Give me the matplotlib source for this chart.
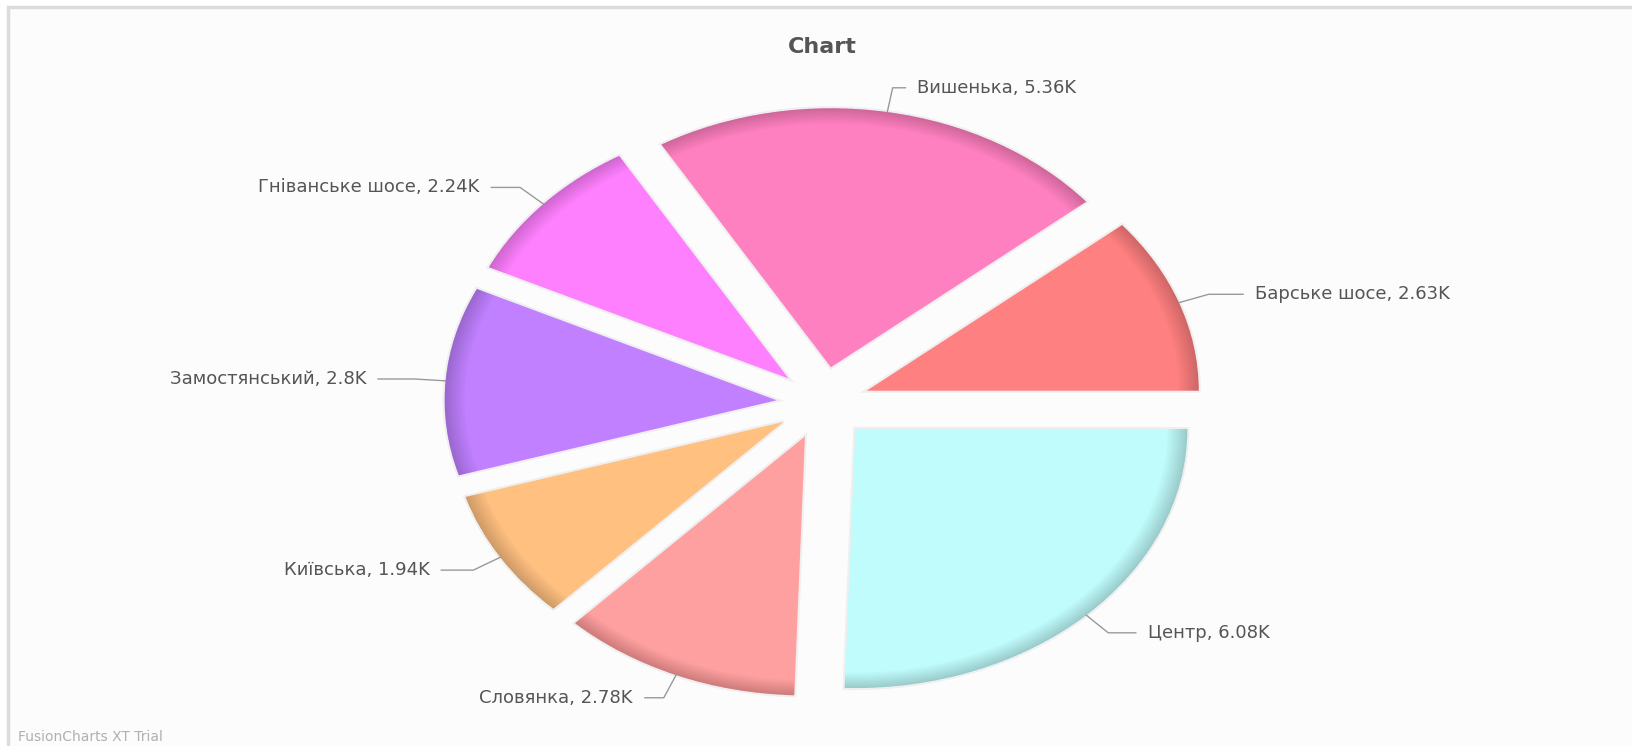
import matplotlib.pyplot as plt
from matplotlib.patches import Wedge, Rectangle
import numpy as np

# данные
names = ['Барське шосе', 'Вишенька', 'Гніванське шосе', 'Замостянський',
         'Київська', 'Словянка', 'Центр']
values = [2.63, 5.36, 2.24, 2.8, 1.94, 2.78, 6.08]
value_labels = ['2.63K', '5.36K', '2.24K', '2.8K', '1.94K', '2.78K', '6.08K']
colors = ['#FF8080', '#FF80C0', '#FF80FF', '#C080FF', '#FFC080', '#FFA0A0', '#C0FCFC']

W, H = 1633, 746
fig = plt.figure(figsize=(W / 100, H / 100), dpi=100)
fig.patch.set_facecolor('white')
# фон с рамкой сверху и слева
fig.patches.append(Rectangle((8 / W, -0.05), 1.1, (H - 7) / H + 0.05,
                             transform=fig.transFigure, facecolor='#fcfcfc',
                             edgecolor='#dcdcdc', linewidth=2.5, zorder=-10))

ax = fig.add_axes([0, 0, 1, 1])
ax.set_facecolor('none')

explode = 0.14
wedges, _ = ax.pie(values, colors=colors, startangle=0, counterclock=True,
                   explode=[explode] * len(values), radius=1,
                   wedgeprops=dict(linewidth=0, zorder=3))

# растягиваем круг в эллипс, как на картинке
cx, cy, rx, ry = 823, 403, 332, 259
ax.set_aspect('auto')
ax.set_xlim(-cx / rx, (W - cx) / rx)
ax.set_ylim(-(H - cy) / ry, cy / ry)
ax.axis('off')

for w in wedges:
    # мягкая тень
    ax.add_patch(Wedge(w.center, w.r, w.theta1, w.theta2, facecolor='none',
                       edgecolor=(0, 0, 0, 0.05), linewidth=3, zorder=2))
    # затемнение по краю
    n = 12
    for i in range(n):
        ax.add_patch(Wedge(w.center, w.r, w.theta1, w.theta2,
                           width=0.06 * (i + 1) / n, facecolor='black',
                           alpha=0.016, linewidth=0, zorder=4))

# подписи с выносками
for w, name, lab in zip(wedges, names, value_labels):
    ang = np.deg2rad((w.theta1 + w.theta2) / 2)
    c, s = np.cos(ang), np.sin(ang)
    ax0 = w.center[0] + w.r * c
    ay0 = w.center[1] + w.r * s
    ex, ey = 1.235 * c, 1.235 * s
    side = 1 if c >= 0 else -1
    off = 0.06 + 0.085 * abs(c)
    lx = ex + side * (off - 0.036)
    tx = ex + side * off
    ax.plot([ax0, ex, lx], [ay0, ey, ey], color='#999999', lw=1, zorder=5)
    ax.text(tx, ey, f'{name}, {lab}', ha='left' if side > 0 else 'right',
            va='center', fontsize=13, color='#555555', zorder=6)

fig.text(822 / W, 1 - 47 / H, 'Chart', ha='center', va='center',
         fontsize=16, fontweight='bold', color='#555555')
fig.text(18 / W, 1 - 737 / H, 'FusionCharts XT Trial', ha='left', va='center',
         fontsize=10, color='#b0b0b0')

fig.savefig('out.png', dpi=100, facecolor=fig.get_facecolor())
